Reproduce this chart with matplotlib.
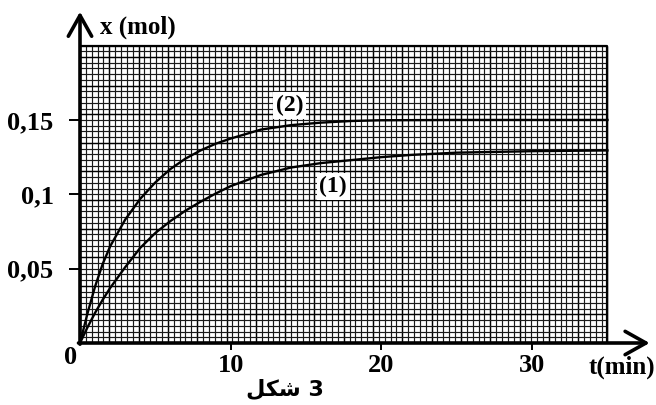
import matplotlib
matplotlib.use("Agg")
import matplotlib.pyplot as plt
import numpy as np

# ---- data ----
t1 = [0, 0.5, 1, 1.5, 2, 3, 4, 5, 6, 7, 8, 9, 10, 12, 14, 16, 18, 20, 22, 25, 30, 35]
x1 = [0, 0.0106, 0.0203, 0.029, 0.037, 0.051, 0.064, 0.074, 0.082, 0.089, 0.095, 0.1005,
      0.1055, 0.113, 0.118, 0.121, 0.123, 0.125, 0.1265, 0.128, 0.129, 0.1295]
t2 = [0, 0.5, 1, 1.5, 2, 3, 4, 5, 6, 7, 8, 9, 10, 12, 14, 16, 18, 20, 25, 30, 35]
x2 = [0, 0.020, 0.038, 0.053, 0.065, 0.083, 0.097, 0.108, 0.117, 0.124, 0.1295, 0.134,
      0.1375, 0.1435, 0.1465, 0.1482, 0.1493, 0.1498, 0.150, 0.150, 0.150]
xticks = [10, 20, 30]
xticklabels = ["10", "20", "30"]
yticks = [0.05, 0.1, 0.15]
yticklabels = ["0,05", "0,1", "0,15"]
xlabel = "t(min)"
ylabel = "x (mol)"
caption = "\uFEDE\uFEDC\uFEB7 3"   # شكل 3 (shaped glyphs, visual order)

W, H = 656, 405
fig = plt.figure(figsize=(W / 100, H / 100), dpi=100)
XMAX, YMAX = 38.3, 0.224
ax = fig.add_axes([80 / W, 62 / H, XMAX * 15.07 / W, YMAX * 1487 / H])
ax.set_xlim(0, XMAX)
ax.set_ylim(0, YMAX)
for s in ax.spines.values():
    s.set_visible(False)
ax.patch.set_alpha(0)

serif = ["Liberation Serif", "DejaVu Serif"]

# graph paper grid
GX, GY = 35.0, 0.2
nx, ny = 90, 52
for i in range(nx + 1):
    xv = GX * i / nx
    major = (i % 5 == 0)
    ax.plot([xv, xv], [0, GY], color="black" if major else "#1a1a1a",
            lw=1.05 if major else 0.85, zorder=1, solid_capstyle="butt")
for j in range(ny + 1):
    yv = GY * j / ny
    major = (j % 5 == 0)
    ax.plot([0, GX], [yv, yv], color="black" if major else "#1a1a1a",
            lw=1.05 if major else 0.85, zorder=1, solid_capstyle="butt")
ax.plot([0, GX, GX], [GY, GY, 0], color="black", lw=1.6, zorder=2)

# curves
ax.plot(t1, x1, color="black", lw=1.7, zorder=3)
ax.plot(t2, x2, color="black", lw=1.7, zorder=3)

# axes with arrows
arrow = dict(arrowstyle="->,head_length=0.75,head_width=0.42", lw=2.6,
             color="black", mutation_scale=20, shrinkA=0, shrinkB=0)
ax.annotate("", xy=(37.8, 0), xytext=(-0.1, 0), arrowprops=arrow,
            annotation_clip=False, zorder=5)
ax.annotate("", xy=(0, 0.2228), xytext=(0, -0.0008), arrowprops=arrow,
            annotation_clip=False, zorder=5)

# ticks
ax.set_xticks(xticks)
ax.set_xticklabels(xticklabels)
ax.set_yticks(yticks)
ax.set_yticklabels(yticklabels)
ax.tick_params(axis="x", direction="out", length=5, width=1.4, pad=3)
ax.tick_params(axis="y", direction="out", length=8, width=1.4, pad=11)
for lab in ax.get_xticklabels() + ax.get_yticklabels():
    lab.set_fontfamily(serif)
    lab.set_fontweight("bold")
    lab.set_fontsize(19)

ax.text(-0.6, -0.0095, "0", ha="center", va="center", fontsize=19,
        fontweight="bold", family=serif, clip_on=False)
ax.text(1.3, 0.2125, ylabel, ha="left", va="center", fontsize=18,
        fontweight="bold", family=serif, clip_on=False)
ax.text(38.15, -0.0165, xlabel, ha="right", va="center", fontsize=18,
        fontweight="bold", family=serif, clip_on=False)
ax.text(13.6, -0.0315, caption, ha="center", va="center", fontsize=16,
        fontweight="bold", family=["DejaVu Sans"], clip_on=False)

# curve labels
box = dict(boxstyle="square,pad=0.12", fc="white", ec="none")
ax.text(13.9, 0.1595, "(2)", ha="center", va="center", fontsize=17,
        fontweight="bold", family=serif, bbox=box, zorder=4)
ax.text(16.8, 0.1055, "(1)", ha="center", va="center", fontsize=17,
        fontweight="bold", family=serif, bbox=box, zorder=4)

fig.savefig("out.png", dpi=100)
